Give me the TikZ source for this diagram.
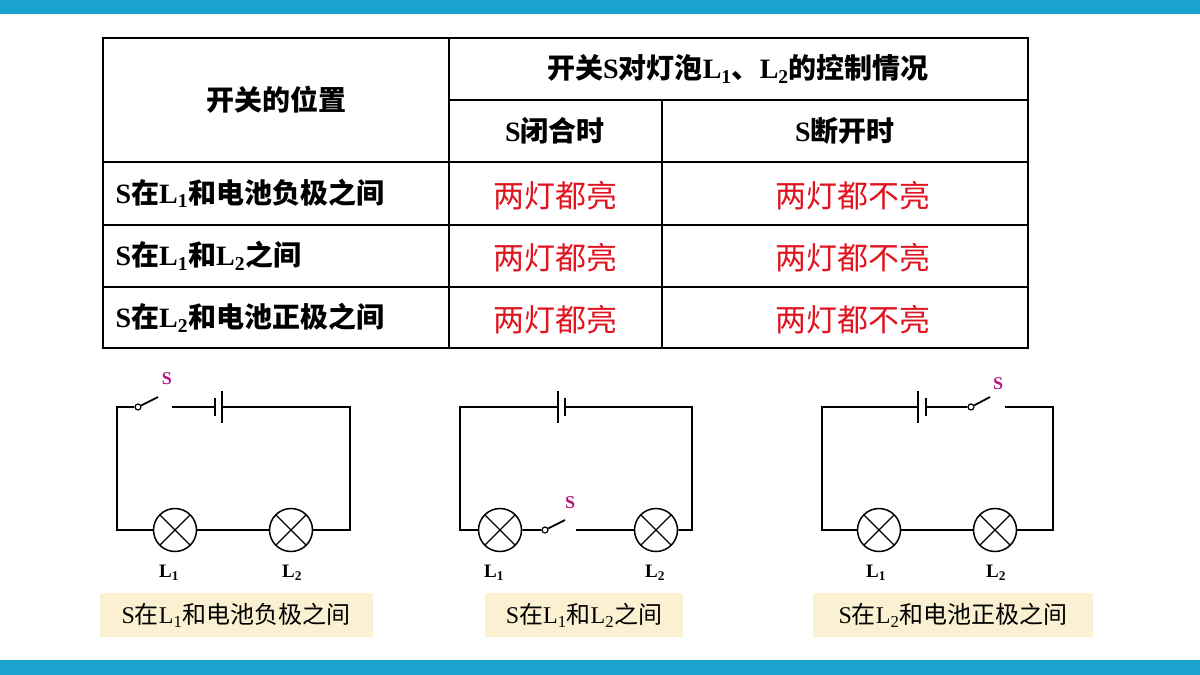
\documentclass[tikz,border=0pt]{standalone}
\usepackage{fontspec}
\setmainfont{Liberation Serif}
\newfontfamily\cjk{Noto Sans CJK SC}
\newcommand{\C}[1]{{\cjk #1}}
\newcommand{\sub}[1]{\textsubscript{#1}}
\definecolor{bar}{HTML}{1AA3CC}
\definecolor{cap}{HTML}{FBF0D2}
\definecolor{mag}{HTML}{B0167E}
\definecolor{redt}{HTML}{E0141E}
\begin{document}
\begin{tikzpicture}[x=1pt,y=-1pt,
  grid/.style={line width=1.3pt},
  wire/.style={line width=1.8pt},
  head/.style={font=\fontsize{28}{32}\selectfont\bfseries},
  red/.style={font=\fontsize{31}{34}\selectfont\cjk, text=redt},
  caption/.style={fill=cap, minimum width=#1, minimum height=44pt, inner sep=0pt, font=\fontsize{24}{27}\selectfont},
  lbl/.style={font=\fontsize{19}{22}\selectfont\bfseries},
  slbl/.style={font=\fontsize{18}{20}\selectfont\bfseries, text=mag},
  lamp/.style={circle, draw, line width=1.5pt, minimum size=43pt, inner sep=0pt, fill=white,
    path picture={\draw[line width=1.2pt] (path picture bounding box.south west)--(path picture bounding box.north east) (path picture bounding box.north west)--(path picture bounding box.south east);}},
  pivot/.style={circle, draw, line width=1.2pt, fill=white, minimum size=6pt, inner sep=0pt}]
\useasboundingbox (0,0) rectangle (1200,675);
\fill[bar] (0,0) rectangle (1200,14);
\fill[bar] (0,660) rectangle (1200,675);
% table
\draw[grid] (103,38) rectangle (1028,348);
\draw[grid] (449,38)--(449,348) (449,100)--(1028,100) (662,100)--(662,348)
  (103,162)--(1028,162) (103,225)--(1028,225) (103,287)--(1028,287);
\node[head] (h1) at (276,100) {\C{开关的位置}};
\node[head] (h2) at (738,69) {\C{开关}S\C{对灯泡}L\sub{1}\C{、}L\sub{2}\C{的控制情况}};
\node[head] (h3) at (555,131) {S\C{闭合时}};
\node[head] (h4) at (845,131) {S\C{断开时}};
\node[head,anchor=west] (r1) at (112,193) {S\C{在}L\sub{1}\C{和电池负极之间}};
\node[head,anchor=west] (r2) at (112,256) {S\C{在}L\sub{1}\C{和}L\sub{2}\C{之间}};
\node[head,anchor=west] (r3) at (112,318) {S\C{在}L\sub{2}\C{和电池正极之间}};
\node[red] (a1) at (555,196) {两灯都亮};
\node[red] (a2) at (555,258) {两灯都亮};
\node[red] (a3) at (555,320) {两灯都亮};
\node[red] (b1) at (853,196) {两灯都不亮};
\node[red] (b2) at (853,258) {两灯都不亮};
\node[red] (b3) at (853,320) {两灯都不亮};
% circuit 1
\coordinate (c1tl) at (117,407); \coordinate (c1tr) at (350,407);
\coordinate (c1bl) at (117,530); \coordinate (c1br) at (350,530);
\node[lamp] (c1L1) at (175,530) {};
\node[lamp] (c1L2) at (291,530) {};
\node[pivot] (c1p) at (138,407) {};
\coordinate (c1s) at (158,397); \coordinate (c1w) at (172,407);
\coordinate (c1b1) at (215,407); \coordinate (c1b2) at (222,407);
\draw[wire] (c1p)--(c1tl)--(c1bl)--(c1L1) (c1L1)--(c1L2) (c1L2)--(c1br)--(c1tr)--(c1b2);
\draw[wire] (c1p)--(c1s) (c1w)--(c1b1);
\draw[line width=1.8pt] ([yshift=-9]c1b1)--([yshift=9]c1b1);
\draw[line width=2.6pt] ([yshift=-16]c1b2)--([yshift=16]c1b2);
\node[slbl] (c1S) at (167,379) {S};
\node[lbl] (c1l1) at (169,573) {L\sub{1}};
\node[lbl] (c1l2) at (292,573) {L\sub{2}};
\node[caption=273pt] (cap1) at (236,615) {S\C{在}L\sub{1}\C{和电池负极之间}};
% circuit 2
\coordinate (c2tl) at (460,407); \coordinate (c2tr) at (692,407);
\coordinate (c2bl) at (460,530); \coordinate (c2br) at (692,530);
\node[lamp] (c2L1) at (500,530) {};
\node[lamp] (c2L2) at (656,530) {};
\node[pivot] (c2p) at (545,530) {};
\coordinate (c2s) at (565,520); \coordinate (c2w) at (576,530);
\coordinate (c2b1) at (558,407); \coordinate (c2b2) at (565,407);
\draw[wire] (c2b1)--(c2tl)--(c2bl)--(c2L1) (c2L1)--(c2p) (c2p)--(c2s) (c2w)--(c2L2) (c2L2)--(c2br)--(c2tr)--(c2b2);
\draw[line width=1.8pt] ([yshift=-16]c2b1)--([yshift=16]c2b1);
\draw[line width=2.6pt] ([yshift=-9]c2b2)--([yshift=9]c2b2);
\node[slbl] (c2S) at (570,503) {S};
\node[lbl] (c2l1) at (494,573) {L\sub{1}};
\node[lbl] (c2l2) at (655,573) {L\sub{2}};
\node[caption=198pt] (cap2) at (584,615) {S\C{在}L\sub{1}\C{和}L\sub{2}\C{之间}};
% circuit 3
\coordinate (c3tl) at (822,407); \coordinate (c3tr) at (1053,407);
\coordinate (c3bl) at (822,530); \coordinate (c3br) at (1053,530);
\node[lamp] (c3L1) at (879,530) {};
\node[lamp] (c3L2) at (995,530) {};
\node[pivot] (c3p) at (971,407) {};
\coordinate (c3s) at (990,397); \coordinate (c3w) at (1005,407);
\coordinate (c3b1) at (918,407); \coordinate (c3b2) at (926,407);
\draw[wire] (c3b1)--(c3tl)--(c3bl)--(c3L1) (c3L1)--(c3L2) (c3L2)--(c3br)--(c3tr)--(c3w);
\draw[wire] (c3b2)--(c3p) (c3p)--(c3s);
\draw[line width=1.8pt] ([yshift=-16]c3b1)--([yshift=16]c3b1);
\draw[line width=2.6pt] ([yshift=-9]c3b2)--([yshift=9]c3b2);
\node[slbl] (c3S) at (998,384) {S};
\node[lbl] (c3l1) at (876,573) {L\sub{1}};
\node[lbl] (c3l2) at (996,573) {L\sub{2}};
\node[caption=280pt] (cap3) at (953,615) {S\C{在}L\sub{2}\C{和电池正极之间}};
\end{tikzpicture}
\end{document}
